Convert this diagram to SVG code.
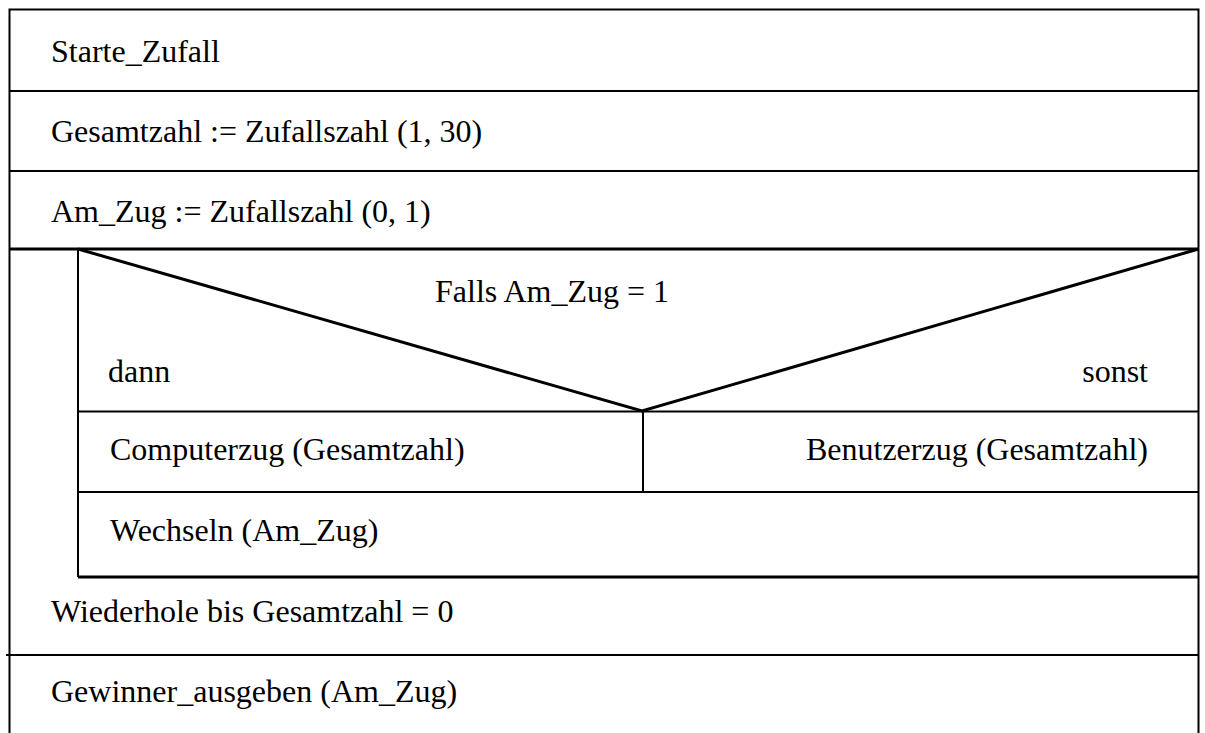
<svg xmlns="http://www.w3.org/2000/svg" width="1205" height="733" viewBox="0 0 1205 733">
<style>
.ln{stroke:#000;stroke-width:2;fill:none}
.tk{stroke:#000;stroke-width:3;fill:none}
.t{font-size:32px;fill:#000}
</style>
<rect x="0" y="0" width="1205" height="733" fill="#fff"/>
<g id="connectors">
<path class="ln" d="M9.5,733 V9.5 H1198.5 V733"/>
<path class="ln" d="M9.5,91 H1198.5 M9.5,171 H1198.5"/>
<path class="tk" d="M9.5,249 H1198.5"/>
<path class="ln" d="M78,249 V577"/>
<path class="tk" d="M78,249 L642,411 L1198.5,249"/>
<path class="ln" d="M78,411.5 H1198.5 M643,411.5 V492 M78,492 H1198.5"/>
<path class="tk" d="M78,577 H1198.5"/>
<path class="ln" d="M6,655 H1198.5"/>
</g>
<g font-family="Liberation Serif, Times New Roman, DejaVu Serif, serif">
<g id="n1"><text class="t" x="51" y="62">Starte_Zufall</text></g>
<g id="n2"><text class="t" x="51" y="142">Gesamtzahl := Zufallszahl (1, 30)</text></g>
<g id="n3"><text class="t" x="51" y="222">Am_Zug := Zufallszahl (0, 1)</text></g>
<g id="n4">
<text class="t" x="435" y="302">Falls Am_Zug = 1</text>
<text class="t" x="108" y="382">dann</text>
<text class="t" x="1148" y="382" text-anchor="end">sonst</text>
</g>
<g id="n5"><text class="t" x="110" y="460">Computerzug (Gesamtzahl)</text></g>
<g id="n6"><text class="t" x="1148" y="460" text-anchor="end">Benutzerzug (Gesamtzahl)</text></g>
<g id="n7"><text class="t" x="110" y="541">Wechseln (Am_Zug)</text></g>
<g id="n8"><text class="t" x="51" y="622">Wiederhole bis Gesamtzahl = 0</text></g>
<g id="n9"><text class="t" x="51" y="702">Gewinner_ausgeben (Am_Zug)</text></g>
</g>
</svg>
